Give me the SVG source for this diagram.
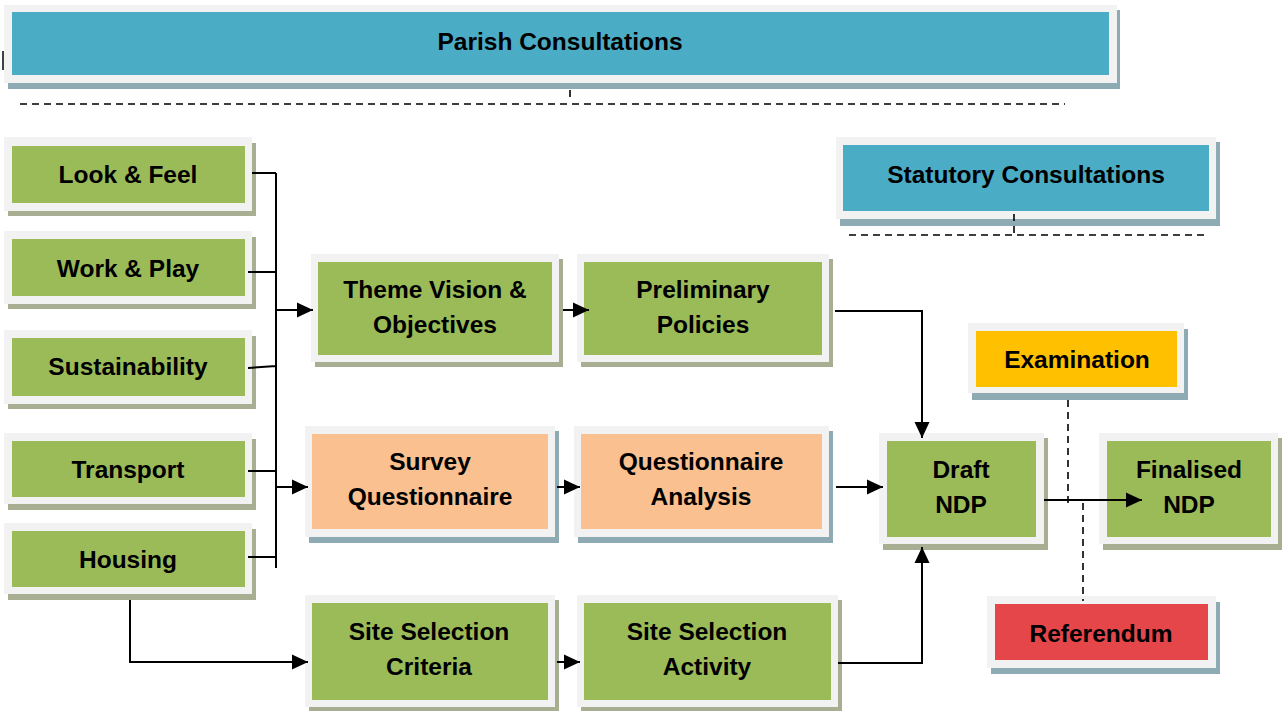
<svg xmlns="http://www.w3.org/2000/svg" width="1283" height="713" viewBox="0 0 1283 713">
<style>
.fr{fill:#f2f2f2}
.sg{fill:#a7ae91}
.sb{fill:#8eaab3}
.g{fill:#9bbb59}
.b{fill:#4bacc6}
.o{fill:#fac090}
.y{fill:#ffc000}
.r{fill:#e5464a}
text{font-family:"Liberation Sans",Arial,sans-serif;font-weight:bold;font-size:24.5px;fill:#000;text-anchor:middle}
.c{fill:none;stroke:#000;stroke-width:2}
.d{fill:none;stroke:#000;stroke-width:1.6;stroke-dasharray:7,5}
</style>
<defs>
<marker id="ah" markerUnits="userSpaceOnUse" markerWidth="18" markerHeight="18" refX="16" refY="8" orient="auto">
<path d="M0,0.5 L16,8 L0,15.5 Z" fill="#000"/>
</marker>
</defs>
<rect width="1283" height="713" fill="#fff"/>

<g id="parish">
<rect class="sb" x="8" y="10" width="1112" height="79"/>
<rect class="fr" x="4" y="5" width="1113" height="78"/>
<rect class="b" x="12" y="12" width="1097" height="63"/>
<text x="560" y="50">Parish Consultations</text>
</g>
<line x1="3" y1="51" x2="3" y2="70" stroke="#000" stroke-width="1.5"/>

<g id="statutory">
<rect class="sb" x="840" y="142" width="380" height="84"/>
<rect class="fr" x="836" y="137" width="380" height="82"/>
<rect class="b" x="843" y="145" width="366" height="66"/>
<text x="1026" y="183">Statutory Consultations</text>
</g>

<g id="look">
<rect class="sg" x="8" y="143" width="248" height="73"/>
<rect class="fr" x="4" y="137" width="248" height="74"/>
<rect class="g" x="12" y="146" width="233" height="57"/>
<text x="128" y="183">Look &amp; Feel</text>
</g>
<g id="work">
<rect class="sg" x="8" y="237" width="248" height="72"/>
<rect class="fr" x="4" y="231" width="248" height="73"/>
<rect class="g" x="12" y="239" width="233" height="57"/>
<text x="128" y="277">Work &amp; Play</text>
</g>
<g id="sustain">
<rect class="sg" x="8" y="336" width="248" height="73"/>
<rect class="fr" x="4" y="330" width="248" height="74"/>
<rect class="g" x="12" y="338" width="233" height="58"/>
<text x="128" y="375">Sustainability</text>
</g>
<g id="transport">
<rect class="sg" x="8" y="439" width="248" height="71"/>
<rect class="fr" x="4" y="433" width="248" height="71"/>
<rect class="g" x="12" y="441" width="233" height="56"/>
<text x="128" y="478">Transport</text>
</g>
<g id="housing">
<rect class="sg" x="8" y="529" width="248" height="71"/>
<rect class="fr" x="4" y="523" width="248" height="71"/>
<rect class="g" x="12" y="531" width="233" height="56"/>
<text x="128" y="568">Housing</text>
</g>

<g id="theme">
<rect class="sg" x="315" y="259" width="248" height="108"/>
<rect class="fr" x="311" y="254" width="248" height="108"/>
<rect class="g" x="318" y="262" width="234" height="93"/>
<text x="435" y="298">Theme Vision &amp;</text>
<text x="435" y="333">Objectives</text>
</g>
<g id="prelim">
<rect class="sg" x="581" y="259" width="252" height="108"/>
<rect class="fr" x="577" y="254" width="252" height="108"/>
<rect class="g" x="584" y="262" width="238" height="93"/>
<text x="703" y="298">Preliminary</text>
<text x="703" y="333">Policies</text>
</g>
<g id="survey">
<rect class="sb" x="309" y="431" width="250" height="112"/>
<rect class="fr" x="305" y="426" width="250" height="111"/>
<rect class="o" x="312" y="434" width="236" height="95"/>
<text x="430" y="470">Survey</text>
<text x="430" y="505">Questionnaire</text>
</g>
<g id="qanalysis">
<rect class="sb" x="578" y="431" width="255" height="112"/>
<rect class="fr" x="574" y="426" width="255" height="111"/>
<rect class="o" x="581" y="434" width="241" height="95"/>
<text x="701" y="470">Questionnaire</text>
<text x="701" y="505">Analysis</text>
</g>
<g id="criteria">
<rect class="sg" x="309" y="600" width="250" height="111"/>
<rect class="fr" x="305" y="595" width="250" height="112"/>
<rect class="g" x="312" y="603" width="236" height="97"/>
<text x="429" y="640">Site Selection</text>
<text x="429" y="675">Criteria</text>
</g>
<g id="activity">
<rect class="sg" x="581" y="600" width="261" height="111"/>
<rect class="fr" x="577" y="595" width="261" height="112"/>
<rect class="g" x="584" y="603" width="247" height="97"/>
<text x="707" y="640">Site Selection</text>
<text x="707" y="675">Activity</text>
</g>
<g id="draft">
<rect class="sg" x="883" y="438" width="165" height="112"/>
<rect class="fr" x="879" y="433" width="165" height="111"/>
<rect class="g" x="887" y="441" width="149" height="96"/>
<text x="961" y="478">Draft</text>
<text x="961" y="513">NDP</text>
</g>
<g id="exam">
<rect class="sb" x="972" y="329" width="216" height="71"/>
<rect class="fr" x="968" y="323" width="216" height="70"/>
<rect class="y" x="976" y="331" width="201" height="56"/>
<text x="1077" y="368">Examination</text>
</g>
<g id="final">
<rect class="sg" x="1103" y="438" width="179" height="112"/>
<rect class="fr" x="1099" y="433" width="179" height="111"/>
<rect class="g" x="1107" y="441" width="164" height="96"/>
<text x="1189" y="478">Finalised</text>
<text x="1189" y="513">NDP</text>
</g>
<g id="referendum">
<rect class="sb" x="991" y="602" width="229" height="72"/>
<rect class="fr" x="987" y="596" width="229" height="72"/>
<rect class="r" x="995" y="604" width="213" height="56"/>
<text x="1101" y="642">Referendum</text>
</g>

<g id="connectors">
<path class="c" d="M252,173 H276 M248,272 H276 M248,368 L276,366 M248,471 H276 M248,557 H276 M276,173 V568"/>
<path class="c" d="M276,310 H313" marker-end="url(#ah)"/>
<path class="c" d="M276,487 H308" marker-end="url(#ah)"/>
<path class="c" d="M563,310 H589" marker-end="url(#ah)"/>
<path class="c" d="M557,487 H580" marker-end="url(#ah)"/>
<path class="c" d="M557,662 H580" marker-end="url(#ah)"/>
<path class="c" d="M130,600 V662 H308" marker-end="url(#ah)"/>
<path class="c" d="M835,311 H922 V438" marker-end="url(#ah)"/>
<path class="c" d="M836,487 H883" marker-end="url(#ah)"/>
<path class="c" d="M838,663 H922 V547" marker-end="url(#ah)"/>
<path class="c" d="M1044,500 H1142" marker-end="url(#ah)"/>
<path class="d" d="M20,104 H1065"/>
<path class="d" d="M570,90 V101"/>
<path class="d" d="M849,235 H1205"/>
<path class="d" d="M1014,214 V235"/>
<path class="d" d="M1068,400 V503"/>
<path class="d" d="M1083,503 V601"/>
</g>
</svg>
